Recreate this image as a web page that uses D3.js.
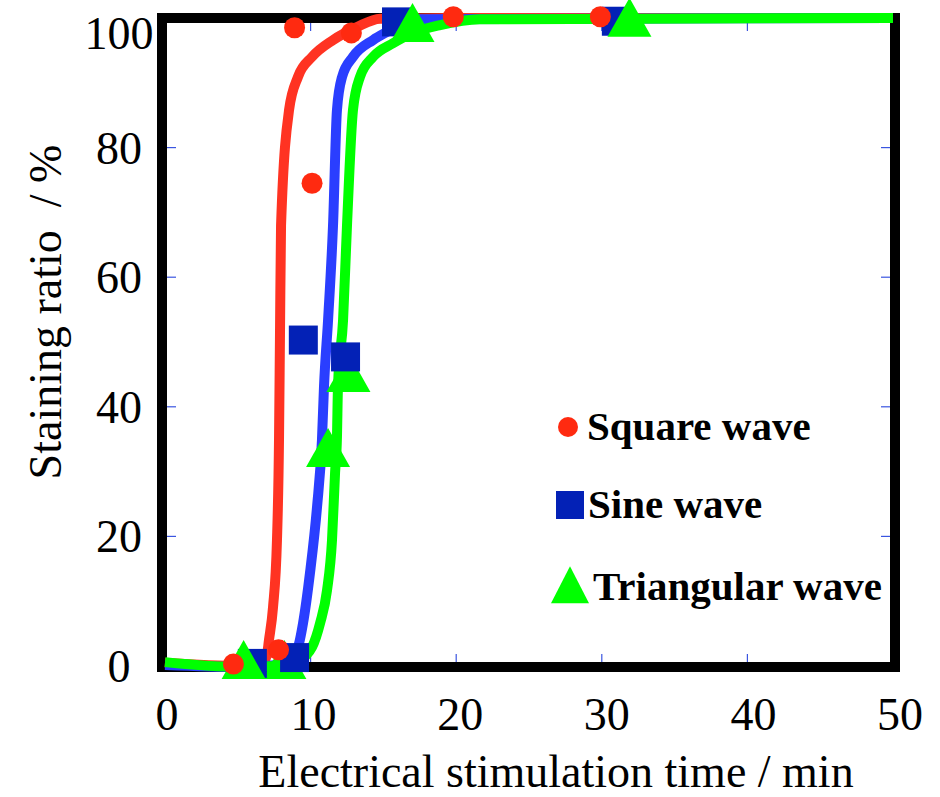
<!DOCTYPE html>
<html>
<head>
<meta charset="utf-8">
<script src="https://cdn.jsdelivr.net/npm/d3@7"></script>
<style>
  body { margin: 0; background: #fff; }
  svg { display: block; }
  text { font-family: "Liberation Serif", "Times New Roman", serif; }
</style>
</head>
<body>
<svg></svg>
<script>
var width = 940;
var height = 797;

// measured points
var squareX = [4.7, 7.8, 8.9, 10.1, 12.8, 19.8, 29.9];
var squareY = [0.3, 2.5, 98.5, 74.5, 97.7, 100.2, 100.2];
var sineX = [6.0, 8.9, 9.5, 12.4, 15.9, 31.0];
var sineY = [0.4, 1.3, 50.3, 47.7, 99.4, 99.5];
var triX = [5.4, 8.2, 11.2, 12.6, 17.0, 31.9];
var triY = [0.0, 0.0, 32.7, 44.3, 98.3, 99.1];

// fitted curves
var squareFitX = [0, 5.15, 6.66, 7.0, 7.14, 7.42, 7.69, 7.83, 7.9, 7.97, 8.52, 9.13, 10.1, 11.54, 13.19, 14.77, 20, 50];
var squareFitY = [0.5, 0, 0.3, 1.7, 4, 9.1, 19.4, 34.9, 51.9, 68, 85.8, 90.9, 94, 96.6, 98.6, 99.9, 100, 100];
var sineFitX = [0, 5.15, 8.24, 9.13, 9.48, 9.96, 10.44, 10.78, 10.92, 11.2, 11.54, 11.81, 12.16, 12.91, 14.29, 15.45, 16.8, 50];
var sineFitY = [0.15, -0.15, 0.3, 2.9, 6.6, 14.4, 24.5, 34.9, 43.1, 53.4, 68, 85.8, 90.9, 94, 96.6, 98.1, 99.8, 100];
var triFitX = [0, 5.15, 8.59, 9.62, 10.1, 10.65, 11.13, 11.47, 11.68, 11.81, 11.88, 12.23, 12.5, 12.91, 13.39, 14.29, 15.66, 17.03, 18.9, 21.6, 50];
var triFitY = [0.6, -0.15, 0.15, 1.5, 2.9, 6.6, 11.7, 19.4, 29.8, 35.3, 43.1, 53.4, 68, 85.8, 90.9, 94, 96.1, 97.7, 98.9, 99.8, 100];

var xTicks = [0, 10, 20, 30, 40, 50];
var yTicks = [0, 20, 40, 60, 80, 100];
var innerXTicks = [10, 20, 30, 40];
var innerYTicks = [20, 40, 60, 80];
var legendNames = ["Square wave", "Sine wave", "Triangular wave"];

var x = d3.scaleLinear().domain([0, 50]).range([165, 893]);
var y = d3.scaleLinear().domain([0, 100]).range([666, 18]);
var xLabel = d3.scaleLinear().domain([0, 50]).range([167, 900]);

var svg = d3.select('svg')
	.attr('width', width)
	.attr('height', height);

// frame
svg.append('rect')
	.attr('x', 162).attr('y', 18)
	.attr('width', 733).attr('height', 649)
	.attr('fill', 'none')
	.attr('stroke', '#000')
	.attr('stroke-width', 10);

// inner ticks on all four sides
var tickColor = '#3a55e0';
innerXTicks.forEach(function(v) {
	svg.append('line').attr('x1', x(v)).attr('x2', x(v)).attr('y1', 662).attr('y2', 654)
		.attr('stroke', tickColor).attr('stroke-width', 1.2);
	svg.append('line').attr('x1', x(v)).attr('x2', x(v)).attr('y1', 23).attr('y2', 31)
		.attr('stroke', tickColor).attr('stroke-width', 1.2);
});
innerYTicks.forEach(function(v) {
	svg.append('line').attr('x1', 167).attr('x2', 176).attr('y1', y(v)).attr('y2', y(v))
		.attr('stroke', tickColor).attr('stroke-width', 1.2);
	svg.append('line').attr('x1', 890).attr('x2', 881).attr('y1', y(v)).attr('y2', y(v))
		.attr('stroke', tickColor).attr('stroke-width', 1.2);
});

// tick labels
svg.selectAll('.xlab').data(xTicks).enter()
	.append('text')
	.attr('x', d => xLabel(d))
	.attr('y', 730)
	.attr('text-anchor', 'middle')
	.attr('font-size', 46)
	.text(d => d);

svg.selectAll('.ylab').data(yTicks).enter()
	.append('text')
	.attr('x', 119)
	.attr('y', d => Math.max(y(d), 33) + 16)
	.attr('text-anchor', 'middle')
	.attr('font-size', 46)
	.text(d => d);

// axis titles
svg.append('text')
	.attr('x', 556).attr('y', 787)
	.attr('text-anchor', 'middle')
	.attr('font-size', 46)
	.text('Electrical stimulation time / min');

svg.append('text')
	.attr('transform', 'translate(61,312) rotate(-90)')
	.attr('text-anchor', 'middle')
	.attr('font-size', 46)
	.style('white-space', 'pre')
	.text('Staining ratio  / %');

// fitted lines
var line = d3.line()
	.x(d => x(d[0]))
	.y(d => y(d[1]))
	.curve(d3.curveMonotoneX);

var fits = [
	{xs: squareFitX, ys: squareFitY, color: '#ff3322'},
	{xs: sineFitX, ys: sineFitY, color: '#2a3eff'},
	{xs: triFitX, ys: triFitY, color: '#00ff00'}
];
fits.forEach(function(f) {
	svg.append('path')
		.attr('d', line(d3.zip(f.xs, f.ys)))
		.attr('fill', 'none')
		.attr('stroke', f.color)
		.attr('stroke-width', 10)
		.attr('stroke-linejoin', 'round');
});

// markers
var triPath = function(cx, cy, w, h) {
	return 'M' + cx + ',' + (cy - h * 2 / 3) +
		'L' + (cx + w / 2) + ',' + (cy + h / 3) +
		'L' + (cx - w / 2) + ',' + (cy + h / 3) + 'Z';
};

var triData = d3.zip(triX, triY).map((d, i) => ({x: d[0], y: d[1], i: i}));
var underSquares = [1, 3];

var drawTris = function(rows) {
	rows.forEach(function(d) {
		svg.append('path')
			.attr('d', triPath(x(d.x), y(d.y), 44, 39))
			.attr('fill', '#00ff00');
	});
};

drawTris(triData.filter(d => underSquares.indexOf(d.i) >= 0));

svg.selectAll('.sq').data(d3.zip(sineX, sineY)).enter()
	.append('rect')
	.attr('x', d => x(d[0]) - 14.5)
	.attr('y', d => y(d[1]) - 14.5)
	.attr('width', 29).attr('height', 29)
	.attr('fill', '#0321b6');

drawTris(triData.filter(d => underSquares.indexOf(d.i) < 0));

svg.selectAll('.dot').data(d3.zip(squareX, squareY)).enter()
	.append('circle')
	.attr('cx', d => x(d[0]))
	.attr('cy', d => y(d[1]))
	.attr('r', 10.5)
	.attr('fill', '#ff2a10');

// legend
svg.append('circle').attr('cx', 568).attr('cy', 427).attr('r', 10).attr('fill', '#ff2a10');
svg.append('rect').attr('x', 556).attr('y', 491).attr('width', 28).attr('height', 28).attr('fill', '#0321b6');
svg.append('path').attr('d', triPath(570, 591, 38, 37)).attr('fill', '#00ff00');

var legendX = [587, 588, 593];
var legendY = [440, 518, 600];
legendNames.forEach(function(name, i) {
	svg.append('text')
		.attr('x', legendX[i])
		.attr('y', legendY[i])
		.attr('font-size', 41)
		.attr('font-weight', 'bold')
		.text(name);
});
</script>
</body>
</html>
